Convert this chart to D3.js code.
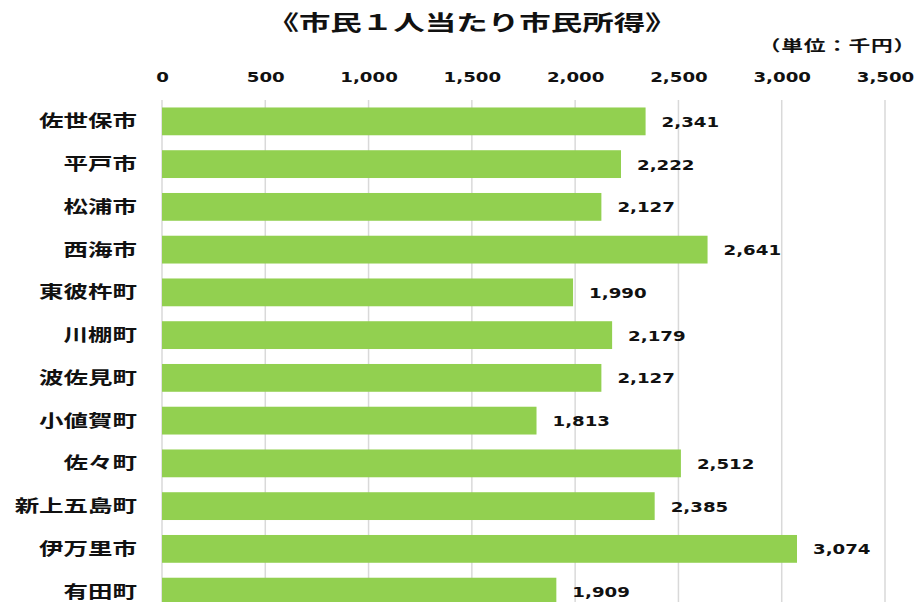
<!DOCTYPE html>
<html>
<head>
<meta charset="utf-8">
<script src="https://cdn.jsdelivr.net/npm/d3@7"></script>
<style>
  body { margin: 0; background: #fff; }
  text { font-family: "DejaVu Sans", "Noto Sans CJK JP", sans-serif; font-weight: bold; fill: #111; }
</style>
</head>
<body>
<script>
var categories = ["佐世保市", "平戸市", "松浦市", "西海市", "東彼杵町", "川棚町", "波佐見町", "小値賀町", "佐々町", "新上五島町", "伊万里市", "有田町"];
var values = [2341, 2222, 2127, 2641, 1990, 2179, 2127, 1813, 2512, 2385, 3074, 1909];
var tickValues = [0, 500, 1000, 1500, 2000, 2500, 3000, 3500];
var titleText = "《市民１人当たり市民所得》";
var unitText = "（単位：千円）";

var svgWidth = 918;
var svgHeight = 602;
var numStretch = 1.3;
var catStretch = 1.4;

var svg = d3.select("body")
  .append("svg")
  .attr("width", svgWidth)
  .attr("height", svgHeight);

var xScale = d3.scaleLinear()
  .domain([0, 3500])
  .range([162, 885]);

var yScale = d3.scaleBand()
  .domain(categories)
  .range([100, 613])
  .paddingInner(0.35)
  .paddingOuter(0.175);

// gridlines
svg.append("g")
  .selectAll("line")
  .data(tickValues)
  .enter()
  .append("line")
  .attr("x1", d => xScale(d))
  .attr("x2", d => xScale(d))
  .attr("y1", 100)
  .attr("y2", svgHeight)
  .attr("stroke", "#d9d9d9")
  .attr("stroke-width", 1.5);

// top axis
var topAxis = d3.axisTop(xScale)
  .tickValues(tickValues)
  .tickSize(0)
  .tickPadding(0)
  .tickFormat(d3.format(","));

var axisG = svg.append("g")
  .attr("transform", "translate(0, 82)")
  .call(topAxis);
axisG.select(".domain").remove();
axisG.selectAll("text")
  .attr("y", 0)
  .attr("dy", 0)
  .style("font-size", "14px")
  .style("font-family", "'DejaVu Sans', sans-serif")
  .attr("fill", "#111")
  .attr("transform", `scale(${numStretch},1)`);

// bars
svg.append("g")
  .selectAll("rect")
  .data(values)
  .enter()
  .append("rect")
  .attr("x", xScale(0))
  .attr("y", (d, i) => yScale(categories[i]))
  .attr("width", d => xScale(d) - xScale(0))
  .attr("height", yScale.bandwidth())
  .attr("fill", "#92d050");

// category labels
svg.append("g")
  .selectAll("g")
  .data(categories)
  .enter()
  .append("g")
  .attr("transform", d => `translate(${xScale(0) - 25}, ${yScale(d) + yScale.bandwidth() / 2 + 6}) scale(${catStretch},1)`)
  .append("text")
  .attr("text-anchor", "end")
  .style("font-size", "17.5px")
  .text(d => d);

// value labels
svg.append("g")
  .selectAll("g")
  .data(values)
  .enter()
  .append("g")
  .attr("transform", (d, i) => `translate(${xScale(d) + 16}, ${yScale(categories[i]) + yScale.bandwidth() / 2 + 5.5}) scale(${numStretch},1)`)
  .append("text")
  .attr("text-anchor", "start")
  .style("font-size", "14px")
  .text(d => d3.format(",")(d));

// title
svg.append("g")
  .attr("transform", `translate(472, 30) scale(1.5,1)`)
  .append("text")
  .attr("text-anchor", "middle")
  .style("font-size", "21px")
  .text(titleText);

// unit
svg.append("g")
  .attr("transform", `translate(916, 51) scale(1.45,1)`)
  .append("text")
  .attr("text-anchor", "end")
  .style("font-size", "15px")
  .style("letter-spacing", "0.5px")
  .text(unitText);
</script>
</body>
</html>
